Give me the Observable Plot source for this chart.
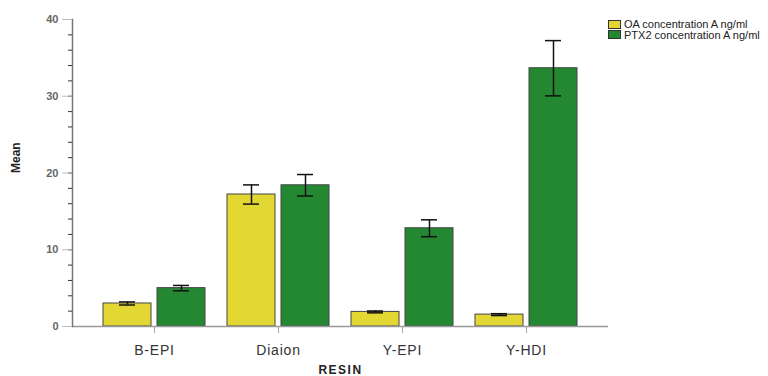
<!DOCTYPE html>
<html><head><meta charset="utf-8">
<script src="https://cdn.jsdelivr.net/npm/d3@7"></script>
<script src="https://cdn.jsdelivr.net/npm/@observablehq/plot@0.6"></script>
<style>
body{margin:0;background:#fff;font-family:"Liberation Sans",Arial,sans-serif;}
#wrap{position:relative;width:768px;height:376px;overflow:hidden;}
#legend{position:absolute;left:608px;top:19px;font-size:11px;color:#222;line-height:10.5px;}
#legend .row{display:flex;align-items:center;height:10.5px;white-space:nowrap;}
#legend .sw{display:inline-block;width:11px;height:7px;border:1px solid #333;margin-right:3px;}
</style></head><body><div id="wrap"><div id="legend"></div></div>
<script>
const resins = ["B-EPI", "Diaion", "Y-EPI", "Y-HDI"];
const seriesNames = ["OA concentration A ng/ml", "PTX2 concentration A ng/ml"];
const oaMean = [3.0, 17.2, 1.9, 1.55];
const oaErr = [0.2, 1.25, 0.12, 0.12];
const ptxMean = [5.0, 18.4, 12.8, 33.65];
const ptxErr = [0.35, 1.4, 1.1, 3.6];
const colors = ["#e2d733", "#248832"];
const yTicks = [0, 10, 20, 30, 40];
const yMinorTicks = d3.range(0, 41, 2);
const xLabel = "RESIN";
const yLabel = "Mean";

const oa = resins.map((r, i) => ({resin: r, series: seriesNames[0], mean: oaMean[i], err: oaErr[i]}));
const ptx = resins.map((r, i) => ({resin: r, series: seriesNames[1], mean: ptxMean[i], err: ptxErr[i]}));

const W = 768, H = 376, mL = 72, mR = 160, mT = 19, mB = 50;
const pInner = 0.176, pOuter = 0.232;
const step = (W - mL - mR) / (resins.length - pInner + 2 * pOuter);
const bw = step * (1 - pInner);
const gap = 5;
const half = (bw - gap) / 2;
const off = (half + gap) / 2;
const capW = 17;
const capInset = (bw - capW) / 2;

const errMarks = (rows, dx) => [
  Plot.ruleX(rows, {x: "resin", y1: d => d.mean - d.err, y2: d => d.mean + d.err, dx, stroke: "#111", strokeWidth: 1.5}),
  Plot.tickY(rows, {x: "resin", y: d => d.mean + d.err, dx, insetLeft: capInset, insetRight: capInset, stroke: "#111", strokeWidth: 1.5}),
  Plot.tickY(rows, {x: "resin", y: d => d.mean - d.err, dx, insetLeft: capInset, insetRight: capInset, stroke: "#111", strokeWidth: 1.5})
];

const plot = Plot.plot({
  width: W, height: H, marginLeft: mL, marginRight: mR, marginTop: mT, marginBottom: mB,
  style: {fontFamily: "'Liberation Sans', Arial, sans-serif", background: "transparent"},
  x: {domain: resins, paddingInner: pInner, paddingOuter: pOuter, axis: null},
  y: {domain: [0, 40], axis: null},
  color: {domain: seriesNames, range: colors},
  marks: [
    Plot.barY(oa, {x: "resin", y: "mean", fill: "series", stroke: "#444", strokeWidth: 1, insetRight: bw - half}),
    Plot.barY(ptx, {x: "resin", y: "mean", fill: "series", stroke: "#444", strokeWidth: 1, insetLeft: bw - half}),
    ...errMarks(oa, -off),
    ...errMarks(ptx, off),
    Plot.ruleY([0], {stroke: "#999", strokeWidth: 1.5}),
    Plot.frame({anchor: "left", stroke: "#777", strokeWidth: 1.5}),
    Plot.axisY({ticks: yMinorTicks, tickSize: 4, text: null, stroke: "#333", label: null}),
    Plot.axisY({ticks: yTicks, tickSize: 10, tickPadding: 4, stroke: "#bbb", fill: "#666", fontWeight: "bold", fontSize: 11, label: null}),
    Plot.axisX({tickSize: 7, tickPadding: 12, stroke: "#aaa", fill: "#333", fontSize: 14, label: null}),
    Plot.text([xLabel], {frameAnchor: "bottom", dy: 47, fontWeight: "bold", fontSize: 12, fill: "#222", text: d => d}),
    Plot.text([yLabel], {frameAnchor: "left", dx: -56, rotate: -90, fontWeight: "bold", fontSize: 12, fill: "#222", text: d => d})
  ]
});
plot.querySelectorAll("text").forEach(t => {
  const s = t.closest("g");
  if (s && s.getAttribute("aria-label") === "x-axis tick label") t.setAttribute("letter-spacing", "0.8");
  if (t.textContent === xLabel) t.setAttribute("letter-spacing", "1.5");
});
const wrap = document.getElementById("wrap");
wrap.insertBefore(plot, wrap.firstChild);
const legend = document.getElementById("legend");
seriesNames.forEach((name, i) => {
  const row = document.createElement("div");
  row.className = "row";
  const sw = document.createElement("span");
  sw.className = "sw";
  sw.style.background = colors[i];
  row.appendChild(sw);
  row.appendChild(document.createTextNode(name));
  legend.appendChild(row);
});
</script></body></html>
